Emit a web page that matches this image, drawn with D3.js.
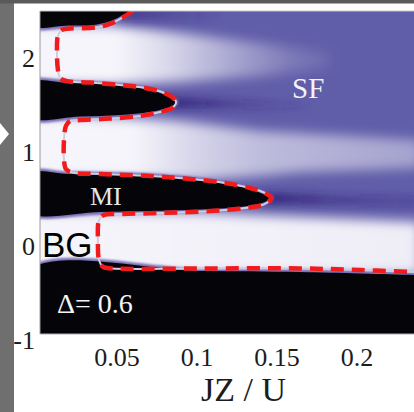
<!DOCTYPE html>
<html>
<head>
<meta charset="utf-8">
<script src="https://cdn.jsdelivr.net/npm/d3@7"></script>
<style>
body { margin: 0; background: #fff; overflow: hidden; }
</style>
</head>
<body>
<script>
// tick labels
var xTicks = [0.05, 0.1, 0.15, 0.2];
var yTicks = [-1, 0, 1, 2];

// black insulating regions, points are [JZ/U, mu/U]
var lobeTop = [[-0.005,2.6],[0.062,2.6],[0.058,2.5],[0.052,2.44],[0.045,2.385],[0.036,2.352],[0.02,2.346],[-0.005,2.346]];
var lobeN2 = [[-0.005,1.735],[0.02,1.734],[0.0397,1.723],[0.0647,1.681],[0.0772,1.628],[0.0847,1.564],[0.0872,1.532],
  [0.0834,1.479],[0.0709,1.426],[0.0522,1.394],[0.0272,1.378],[-0.005,1.372]];
var lobeMI = [[-0.005,0.767],[0.02,0.766],[0.0584,0.755],[0.0897,0.723],[0.1147,0.670],[0.1334,0.606],[0.1428,0.543],
  [0.1466,0.511],[0.1409,0.457],[0.1272,0.415],[0.1022,0.388],[0.0709,0.372],[0.0397,0.362],[-0.005,0.362]];
var lobeBottom = [[-0.005,-0.266],[0.1022,-0.266],[0.1647,-0.277],[0.2359,-0.309],[0.26,-0.32],[0.26,-1.2],[-0.005,-1.2]];

// red dashed phase boundary
var boundary = [[0.0603,2.5],[0.0534,2.426],[0.0459,2.362],[0.0366,2.324],[0.0209,2.314],[0.0159,2.298],[0.0134,2.234],
  [0.0128,2.085],[0.0134,1.872],[0.0147,1.787],[0.0184,1.755],[0.0334,1.739],[0.0522,1.713],[0.0678,1.681],[0.0784,1.638],
  [0.0847,1.585],[0.0872,1.532],[0.0847,1.468],[0.0772,1.426],[0.0647,1.383],[0.0459,1.356],[0.0272,1.340],[0.0209,1.330],
  [0.0184,1.277],[0.0172,1.128],[0.0172,0.915],[0.0184,0.819],[0.0222,0.782],[0.0397,0.766],[0.0709,0.745],[0.0959,0.713],
  [0.1178,0.670],[0.1334,0.617],[0.1428,0.564],[0.1466,0.511],[0.1428,0.447],[0.1303,0.404],[0.1084,0.372],[0.0772,0.351],
  [0.0522,0.340],[0.0422,0.330],[0.0391,0.277],[0.0384,0.064],[0.0391,-0.149],[0.0416,-0.223],[0.0472,-0.239],
  [0.1022,-0.239],[0.1647,-0.239],[0.2022,-0.255],[0.2359,-0.277],[0.25,-0.285]];

// light superfluid bands next to the lobes, and how they fade along JZ/U
var bandA = [[-0.005,2.37],[0.0459,2.351],[0.0897,2.266],[0.1397,2.160],[0.1834,2.064],[0.1834,1.894],[0.1397,1.809],
  [0.0897,1.745],[0.0459,1.713],[-0.005,1.713]];
var bandAFade = [[0.05,1],[0.08,0.82],[0.12,0.5],[0.16,0.18],[0.2,0]];
var bandB = [[-0.005,1.404],[0.0522,1.372],[0.0897,1.330],[0.1397,1.223],[0.24,1.128],[0.24,0.830],[0.1647,0.787],
  [0.1397,0.745],[0.1022,0.702],[-0.005,0.723]];
var bandBFade = [[0.06,1],[0.1,0.78],[0.14,0.62],[0.24,0.45]];
var bandC = [[-0.005,0.383],[0.1022,0.362],[0.1522,0.319],[0.24,0.255],[0.24,-0.309],[-0.005,-0.309]];
var bandCFade = [[0,1],[0.24,0.95]];

// dark streaks past the lobe tips
var streakTop = [[0.052,2.55],[0.1209,2.55],[0.1209,2.383],[0.052,2.383]];
var streakTopFade = [[0.058,0.45],[0.12,0]];
var streakN2 = [[0.0822,1.574],[0.1209,1.553],[0.1772,1.511],[0.1772,1.447],[0.1209,1.468],[0.0822,1.479]];
var streakN2Fade = [[0.087,1],[0.121,0.5],[0.177,0]];
var streakMI = [[0.1409,0.564],[0.1834,0.543],[0.24,0.521],[0.24,0.426],[0.1834,0.436],[0.1409,0.457]];
var streakMIFade = [[0.147,0.95],[0.183,0.5],[0.24,0.3]];

var W = 414, H = 412;
var svg = d3.select("body").append("svg")
    .attr("width", W)
    .attr("height", H);

// page bits around the figure
svg.append("rect").attr("x", 0).attr("y", 0).attr("width", 14).attr("height", H).attr("fill", "#6f6f6f");
svg.append("rect").attr("x", 0).attr("y", 0).attr("width", W).attr("height", 3.5).attr("fill", "#5a5a5a");
svg.append("polygon").attr("points", "0,123 9,134 0,145").attr("fill", "#fff");

var x = d3.scaleLinear().domain([0, 0.24]).range([36.5, 420.5]);
var y = d3.scaleLinear().domain([-1, 2.5]).range([340, 11]);

var plot = {left: 40, top: 11, right: 420, bottom: 334};

var defs = svg.append("defs");
defs.append("clipPath").attr("id", "clip")
  .append("rect")
    .attr("x", plot.left).attr("y", plot.top)
    .attr("width", plot.right - plot.left).attr("height", plot.bottom - plot.top);

function blur(id, sd) {
  defs.append("filter").attr("id", id)
      .attr("x", "-30%").attr("y", "-30%").attr("width", "160%").attr("height", "160%")
    .append("feGaussianBlur").attr("stdDeviation", sd);
}
blur("blurBand", 6);
blur("blurStreak", 4);
blur("blurHalo", 1.2);

function fade(id, color, stops) {
  var x1 = x(stops[0][0]), x2 = x(stops[stops.length - 1][0]);
  var g = defs.append("linearGradient").attr("id", id)
      .attr("gradientUnits", "userSpaceOnUse")
      .attr("x1", x1).attr("x2", x2).attr("y1", 0).attr("y2", 0);
  stops.forEach(function(s) {
    g.append("stop")
      .attr("offset", (x(s[0]) - x1) / (x2 - x1))
      .attr("stop-color", color)
      .attr("stop-opacity", s[1]);
  });
  return "url(#" + id + ")";
}

var area = d3.line().x(function(d) { return x(d[0]); }).y(function(d) { return y(d[1]); });
var smooth = d3.line().x(function(d) { return x(d[0]); }).y(function(d) { return y(d[1]); })
    .curve(d3.curveCatmullRomClosed.alpha(0.5));
var open = d3.line().x(function(d) { return x(d[0]); }).y(function(d) { return y(d[1]); })
    .curve(d3.curveCatmullRom.alpha(0.5));

var g = svg.append("g").attr("clip-path", "url(#clip)");

// superfluid background
g.append("rect")
    .attr("x", plot.left).attr("y", plot.top)
    .attr("width", plot.right - plot.left).attr("height", plot.bottom - plot.top)
    .attr("fill", "#615ea9");

var white = "#f6f5fb", dark = "#2f1f78";
var bands = [[bandA, bandAFade, "fA"], [bandB, bandBFade, "fB"], [bandC, bandCFade, "fC"]];
g.append("g").attr("filter", "url(#blurBand)")
  .selectAll("path").data(bands).enter().append("path")
    .attr("d", function(d) { return area(d[0]) + "Z"; })
    .attr("fill", function(d) { return fade(d[2], white, d[1]); });

var streaks = [[streakTop, streakTopFade, "sT"], [streakN2, streakN2Fade, "sN"], [streakMI, streakMIFade, "sM"]];
g.append("g").attr("filter", "url(#blurStreak)")
  .selectAll("path").data(streaks).enter().append("path")
    .attr("d", function(d) { return area(d[0]) + "Z"; })
    .attr("fill", function(d) { return fade(d[2], dark, d[1]); });

// insulating lobes: soft lavender rim, then black
var lobes = [lobeTop, lobeN2, lobeMI, lobeBottom];
g.append("g").attr("filter", "url(#blurHalo)")
  .selectAll("path").data(lobes).enter().append("path")
    .attr("d", smooth)
    .attr("fill", "none")
    .attr("stroke", "#786eb6")
    .attr("stroke-width", 5);
g.append("g")
  .selectAll("path").data(lobes).enter().append("path")
    .attr("d", smooth)
    .attr("fill", "#050509");

// phase boundary
g.append("path")
    .attr("d", open(boundary))
    .attr("fill", "none")
    .attr("stroke", "#cfcde2")
    .attr("stroke-width", 2);
g.append("path")
    .attr("d", open(boundary))
    .attr("fill", "none")
    .attr("stroke", "#f21b1b")
    .attr("stroke-width", 4.5)
    .attr("stroke-dasharray", "13,8");

// frame
svg.append("line").attr("x1", plot.left).attr("x2", plot.left).attr("y1", plot.top).attr("y2", plot.bottom)
    .attr("stroke", "#9a9a9a").attr("stroke-width", 1);
svg.append("line").attr("x1", plot.left).attr("x2", W).attr("y1", plot.bottom).attr("y2", plot.bottom)
    .attr("stroke", "#b0b0b0").attr("stroke-width", 1);
svg.append("line").attr("x1", plot.left).attr("x2", W).attr("y1", plot.top).attr("y2", plot.top)
    .attr("stroke", "#c4c4c4").attr("stroke-width", 1);

// axes
var xAxis = svg.append("g")
    .attr("transform", "translate(0," + plot.bottom + ")")
    .call(d3.axisBottom(x).tickValues(xTicks).tickSize(0).tickPadding(14)
      .tickFormat(function(d) { return String(d); }));
var yAxis = svg.append("g")
    .attr("transform", "translate(" + plot.left + ",0)")
    .call(d3.axisLeft(y).tickValues(yTicks).tickSize(0).tickPadding(5)
      .tickFormat(function(d) { return String(d); }));
[xAxis, yAxis].forEach(function(a) {
  a.select(".domain").remove();
  a.attr("font-family", "'Liberation Serif', serif").attr("font-size", 26);
  a.selectAll("text").attr("fill", "#1c1c1c");
});

svg.append("text")
    .attr("x", 243.5).attr("y", 401)
    .attr("text-anchor", "middle")
    .attr("font-family", "'Liberation Serif', serif")
    .attr("font-size", 34)
    .attr("fill", "#1c1c1c")
    .text("JZ / U");

// phase labels
function label(t, xv, yv, size, color, family) {
  svg.append("text")
      .attr("x", x(xv)).attr("y", y(yv))
      .attr("font-family", family || "'Liberation Serif', serif")
      .attr("font-size", size)
      .attr("fill", color)
      .text(t);
}
label("SF", 0.1597, 1.574, 29, "#f2f2f8");
label("MI", 0.0334, 0.436, 26, "#e6e6e6");
label("\u0394= 0.6", 0.0128, -0.713, 28, "#f4f4f4");
label("BG", 0.0034, -0.117, 35, "#000", "'Liberation Sans', Arial, sans-serif");
</script>
</body>
</html>
